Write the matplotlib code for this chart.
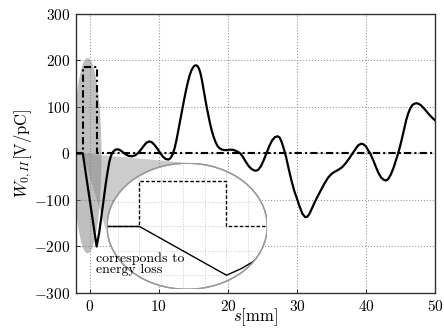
import numpy as np
import matplotlib
matplotlib.use('Agg')
import matplotlib.pyplot as plt
from matplotlib.patches import Ellipse, Polygon

###--- data
s_wake = [-2.0, -1.0, 1.0, 1.35, 1.65, 2.0, 2.3, 2.6, 2.85, 3.1, 3.4, 3.7, 4.0, 4.3,
          4.7, 5.1, 5.6, 6.1, 6.6, 7.0, 7.4, 7.8, 8.2, 8.6, 9.0, 9.4, 9.8, 10.2,
          10.6, 11.0, 11.4, 11.7, 12.0, 12.3, 12.6, 12.9, 13.2, 13.5, 13.8, 14.1,
          14.4, 14.7, 15.0, 15.2, 15.4, 15.6, 15.8, 16.0, 16.2, 16.45, 16.7, 16.95,
          17.2, 17.45, 17.7, 17.95, 18.2, 18.5, 18.8, 19.2, 19.7, 20.2, 20.7, 21.1,
          21.5, 21.8, 22.2, 22.6, 23.0, 23.4, 23.8, 24.1, 24.4, 24.8, 25.2, 25.6,
          26.0, 26.4, 26.8, 27.2, 27.5, 27.8, 28.1, 28.4, 28.8, 29.2, 29.6, 30.0,
          30.4, 30.8, 31.2, 31.5, 31.8, 32.2, 32.6, 33.0, 33.5, 34.0, 34.5, 35.0,
          35.5, 36.0, 36.5, 37.0, 37.5, 38.0, 38.5, 38.9, 39.3, 39.6, 40.0, 40.3,
          40.6, 41.0, 41.4, 41.8, 42.2, 42.6, 42.9, 43.2, 43.6, 44.0, 44.3, 44.6,
          44.9, 45.2, 45.5, 45.8, 46.1, 46.4, 46.7, 47.0, 47.3, 47.6, 48.0, 48.5,
          49.0, 49.5, 50.0]
w_wake = [0, 0, -200, -172, -140, -100, -67, -38, -17, -4, 4, 8, 9, 8,
          4, -1, -5, -6, -4, 1, 8, 16, 23, 26, 24, 18, 10, 1,
          -7, -12, -13, -10, -2, 12, 32, 56, 80, 103, 126, 147,
          165, 178, 186, 189, 189.5, 188, 183, 174, 161, 140, 118, 98,
          80, 62, 47, 35, 25, 16, 11, 8, 7, 8, 8, 6,
          3, 0, -8, -18, -27, -33, -36.5, -37, -35, -27, -14, 1,
          16, 28, 35, 37, 34, 24, 10, -6, -33, -58, -80, -97,
          -115, -130, -137, -136, -130, -117, -104, -92, -78, -64, -52, -44,
          -39, -35, -30, -22, -12, -1, 10, 18, 21, 20, 15, 7,
          0, -13, -28, -42, -52, -57, -58, -55, -45, -30, -16, -2,
          14, 32, 52, 71, 86, 97, 104, 107, 108, 107, 103, 95,
          86, 78, 71]

s_bunch = [-2, -1, -1, 1, 1, 50]
w_bunch = [0, 0, 185, 185, 0, 0]

x_ticks = [0, 10, 20, 30, 40, 50]
y_ticks = [-300, -200, -100, 0, 100, 200, 300]

###--- fonts (tex look)
plt.rcParams.update({'font.family': 'serif',
                     'font.serif': ['cmr10', 'DejaVu Serif'],
                     'mathtext.fontset': 'cm',
                     'axes.formatter.use_mathtext': True,
                     'font.size': 11})

fig = plt.figure(figsize=(4.44, 3.32), dpi=100)
ax = fig.add_axes([0.171, 0.1175, 0.809, 0.8405])

ax.plot(s_wake, w_wake, color='k', lw=1.6, zorder=4)
ax.plot(s_bunch, w_bunch, color='k', lw=1.5, ls=(0, (3.5, 1.5, 1, 1.5)), zorder=4)

ax.set_xlim(-2, 50)
ax.set_ylim(-300, 300)
ax.set_xticks(x_ticks)
ax.set_yticks(y_ticks)
ax.grid(True, ls=':', color='#999999', lw=0.8)
ax.tick_params(direction='in', length=3, width=0.6, top=False, right=False, pad=4)
for sp in ax.spines.values():
    sp.set_linewidth(1.0)
    sp.set_color('#333333')
ax.set_xlabel(r'$s[\mathrm{mm}]$', fontsize=12, labelpad=-5)
ax.set_ylabel(r'$W_{0,II}[\mathrm{V/pC}]$', fontsize=12, labelpad=0)

###--- zoom source ellipse
ax.add_patch(Ellipse((-0.3, -5), 4.0, 420, facecolor='#808080', alpha=0.5,
                     edgecolor='none', zorder=2))

###--- inset ellipse geometry (data coords of the main axes)
ex0, ey0, ew, eh = 2.5, -292, 23.2, 271
cx, cy, a, b = ex0 + ew / 2, ey0 + eh / 2, ew / 2, eh / 2

# tangent lines from apex to the inset ellipse -> cone
apex = (-1.0, 0.0)
ua, va = (apex[0] - cx) / a, (apex[1] - cy) / b
r = np.hypot(ua, va)
phi0 = np.arctan2(va, ua)
dphi = np.arccos(1 / r)
t1 = (cx + a * np.cos(phi0 - dphi), cy + b * np.sin(phi0 - dphi))
t2 = (cx + a * np.cos(phi0 + dphi), cy + b * np.sin(phi0 + dphi))
ax.add_patch(Polygon([apex, t1, t2], closed=True, facecolor='#808080',
                     alpha=0.4, edgecolor='none', zorder=2))

###--- inset
axin = ax.inset_axes([ex0, ey0, ew, eh], transform=ax.transData)
axin.set_xlim(-1.746, 1.937)
axin.set_ylim(-257.6, 259.5)
axin.axis('off')
axin.patch.set_visible(False)
ell = Ellipse((0.5, 0.5), 1, 1, transform=axin.transAxes, facecolor='white',
              edgecolor='#999999', lw=1.0, zorder=0)
axin.add_patch(ell)
for g in np.arange(-1.5, 2.0, 0.5):
    axin.axvline(g, color='#cccccc', ls=':', lw=0.7, clip_path=ell, zorder=1)
for g in np.arange(-200, 300, 100):
    axin.axhline(g, color='#cccccc', ls=':', lw=0.7, clip_path=ell, zorder=1)
axin.plot(s_wake, w_wake, color='k', lw=1.0, clip_path=ell, zorder=3)
axin.plot(s_bunch, w_bunch, color='k', lw=1.0, ls=(0, (2.5, 1.5)),
          clip_path=ell, zorder=3)
ell_edge = Ellipse((0.5, 0.5), 1, 1, transform=axin.transAxes, facecolor='none',
                   edgecolor='#999999', lw=1.0, zorder=4)
axin.add_patch(ell_edge)

axin.text(0.9, -213, 'corresponds to\nenergy loss', transform=ax.transData,
          fontsize=10, va='top', ha='left', linespacing=0.85, zorder=10)

fig.savefig('out.png', dpi=100)
